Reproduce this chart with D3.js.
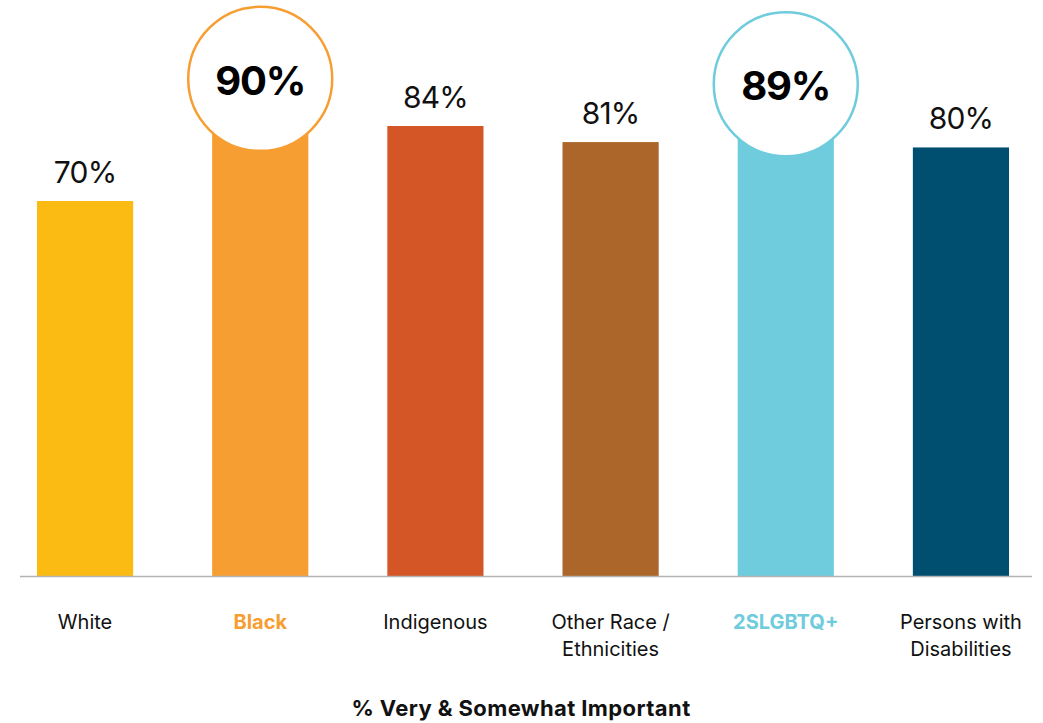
<!DOCTYPE html>
<html><head><meta charset="utf-8">
<script src="https://cdn.jsdelivr.net/npm/d3@7"></script>
<style>html,body{margin:0;padding:0;background:#fff;}svg{display:block;font-family:Inter, Lato, sans-serif;}</style>
</head><body>
<svg id="c" width="1043" height="723"></svg>
<script>
const categories = ["White", "Black", "Indigenous", "Other Race / Ethnicities", "2SLGBTQ+", "Persons with Disabilities"];
const labelLines = [["White"], ["Black"], ["Indigenous"], ["Other Race /", "Ethnicities"], ["2SLGBTQ+"], ["Persons with", "Disabilities"]];
const values = [70, 90, 84, 81, 89, 80];
const colors = ["#FCBB13", "#F79E32", "#D45627", "#AC6629", "#6FCCDD", "#004F71"];
const highlighted = [false, true, false, false, true, false];
const axisTitle = "% Very & Somewhat Important";

const svg = d3.select("#c");
const x = d3.scaleBand().domain(categories).range([17, 1029]).paddingInner(0.451).paddingOuter(0.114);
const y = d3.scaleLinear().domain([0, 100]).range([576, 40.3]);

const data = categories.map((c, i) => ({c, v: values[i], col: colors[i], hi: highlighted[i], lines: labelLines[i]}));

svg.append("g").selectAll("rect").data(data).join("rect")
  .attr("x", d => x(d.c)).attr("width", x.bandwidth())
  .attr("y", d => y(d.v)).attr("height", d => y(0) - y(d.v))
  .attr("fill", d => d.col);

svg.append("line").attr("x1", 20).attr("x2", 1032).attr("y1", y(0) + 0.5).attr("y2", y(0) + 0.5)
  .attr("stroke", "#b3b3b3").attr("stroke-width", 1.5);

// normal value labels
svg.append("g").selectAll("text").data(data.filter(d => !d.hi)).join("text")
  .attr("x", d => x(d.c) + x.bandwidth() / 2).attr("y", d => y(d.v) - 18)
  .attr("text-anchor", "middle").attr("font-size", 30).attr("letter-spacing", -0.8).attr("fill", "#111")
  .text(d => d.v + "%");

// highlighted circles
const hg = svg.append("g").selectAll("g").data(data.filter(d => d.hi)).join("g")
  .attr("transform", d => `translate(${x(d.c) + x.bandwidth() / 2},${y(d.v) - 15})`);
hg.append("circle").attr("r", 72).attr("fill", "#fff").attr("stroke", d => d.col).attr("stroke-width", 2.5);
hg.append("text").attr("text-anchor", "middle").attr("y", 16).attr("font-size", 40).attr("font-weight", 700)
  .attr("letter-spacing", -1.2).attr("fill", "#000").text(d => d.v + "%");

// category labels
const cl = svg.append("g").selectAll("text").data(data).join("text")
  .attr("text-anchor", "middle").attr("font-size", 20)
  .attr("font-weight", d => d.hi ? 700 : 400)
  .attr("fill", d => d.hi ? d.col : "#111")
  .attr("transform", d => `translate(${x(d.c) + x.bandwidth() / 2},629)`);
cl.selectAll("tspan").data(d => d.lines).join("tspan")
  .attr("x", 0).attr("dy", (d, i) => i === 0 ? 0 : 26.5).text(d => d);

svg.append("text").attr("x", 521).attr("y", 716).attr("text-anchor", "middle")
  .attr("font-size", 22).attr("font-weight", 700).attr("letter-spacing", 0.4).attr("fill", "#111").text(axisTitle);
</script>
</body></html>
